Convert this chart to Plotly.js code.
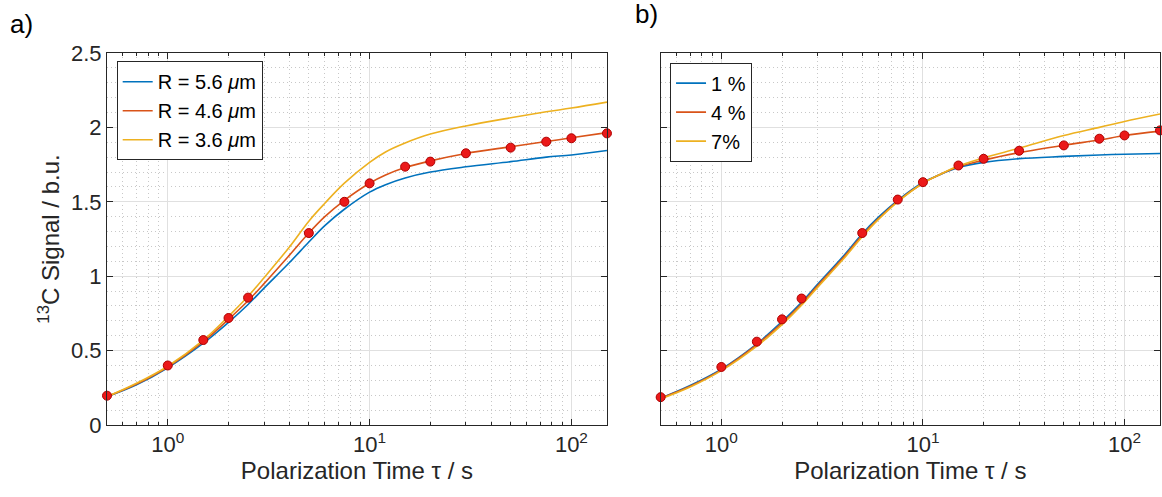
<!DOCTYPE html>
<html><head><meta charset="utf-8">
<script src="https://cdn.plot.ly/plotly-3.0.1.min.js"></script>
<style>html,body{margin:0;padding:0;background:#fff}#chart{width:1162px;height:497px}</style>
</head><body><div id="chart"></div><script>
// Simulation time grid (s)
const tauFit = [0.5,0.7,1,1.5,2,2.5,3,4,5,6,7.5,10,12,15,20,30,50,75,100,150];
// Panel a: radius series
const aR56 = [0.19,0.27,0.385,0.55,0.69,0.81,0.92,1.09,1.23,1.34,1.45,1.565,1.615,1.66,1.70,1.735,1.77,1.80,1.815,1.845];
const aR46 = [0.19,0.275,0.39,0.56,0.71,0.835,0.95,1.14,1.29,1.40,1.51,1.625,1.68,1.73,1.775,1.825,1.87,1.905,1.93,1.965];
const aR36 = [0.19,0.28,0.395,0.57,0.73,0.865,0.99,1.195,1.37,1.49,1.625,1.765,1.835,1.895,1.955,2.01,2.065,2.105,2.13,2.17];
// Panel b: concentration series
const b1 = [0.18,0.265,0.375,0.545,0.695,0.825,0.945,1.13,1.285,1.395,1.51,1.63,1.68,1.73,1.765,1.79,1.805,1.815,1.82,1.825];
const b4 = [0.18,0.26,0.37,0.54,0.685,0.815,0.935,1.12,1.275,1.385,1.505,1.625,1.68,1.735,1.78,1.83,1.88,1.915,1.945,1.975];
const b7 = [0.175,0.255,0.365,0.53,0.675,0.805,0.925,1.11,1.265,1.38,1.50,1.625,1.68,1.74,1.795,1.86,1.945,2.00,2.04,2.09];
// Measured points
const tauExp = [0.5,1,1.5,2,2.5,5,7.5,10,15,20,30,50,75,100,150];
const expA = [0.197,0.40,0.571,0.719,0.856,1.29,1.50,1.624,1.736,1.77,1.826,1.864,1.904,1.927,1.96];
const expB = [0.187,0.39,0.56,0.71,0.85,1.29,1.515,1.632,1.744,1.789,1.843,1.879,1.924,1.946,1.98];
// Labels
const namesA = ['R = 5.6 <i>μ</i>m','R = 4.6 <i>μ</i>m','R = 3.6 <i>μ</i>m'];
const namesB = ['1 %','4 %','7%'];
const xTickVals = [1,10,100];
const xTickText = ['10<sup>0</sup>','10<sup>1</sup>','10<sup>2</sup>'];
const xMinorVals = [0.5,0.6,0.7,0.8,0.9,2,3,4,5,6,7,8,9,20,30,40,50,60,70,80,90];

const colors = ['#0072BD','#D95319','#EDB120'];
const FONT = 'Liberation Sans, Arial, Helvetica, sans-serif';
const traces = [];
[aR56,aR46,aR36].forEach((y,i)=>traces.push({x:tauFit,y:y,type:'scatter',mode:'lines',name:namesA[i],
  line:{color:colors[i],width:1.6,shape:'spline',smoothing:1},xaxis:'x',yaxis:'y',legend:'legend'}));
traces.push({x:tauExp,y:expA,type:'scatter',mode:'markers',showlegend:false,cliponaxis:false,
  marker:{size:9,color:'rgb(235,25,25)',line:{color:'rgb(175,0,0)',width:1}},xaxis:'x',yaxis:'y'});
[b1,b4,b7].forEach((y,i)=>traces.push({x:tauFit,y:y,type:'scatter',mode:'lines',name:namesB[i],
  line:{color:colors[i],width:1.6,shape:'spline',smoothing:1},xaxis:'x2',yaxis:'y2',legend:'legend2'}));
traces.push({x:tauExp,y:expB,type:'scatter',mode:'markers',showlegend:false,cliponaxis:false,
  marker:{size:9,color:'rgb(235,25,25)',line:{color:'rgb(175,0,0)',width:1}},xaxis:'x2',yaxis:'y2'});

const MINORGRID = {gridcolor:'#c8c8c8',griddash:'1px,3px',gridwidth:1};
function xax(domain, anchor){
  return {type:'log',range:[Math.log10(0.5),Math.log10(150)],domain:domain,anchor:anchor,
    tickmode:'array',tickvals:xTickVals,ticktext:xTickText,
    ticks:'inside',ticklen:6,tickwidth:1,tickcolor:'#262626',
    showline:true,linecolor:'#262626',linewidth:1,mirror:'ticks',
    showgrid:true,gridcolor:'#e0e0e0',gridwidth:1,zeroline:false,
    minor:Object.assign({tickmode:'array',tickvals:xMinorVals,ticks:'inside',ticklen:3,tickcolor:'#262626',
      showgrid:true},MINORGRID),
    tickfont:{family:FONT,size:22,color:'#262626'},
    title:{text:'Polarization Time τ / s',font:{family:FONT,size:24,color:'#262626'},standoff:5}};
}
function yax(anchor, labels){
  const o = {range:[0,2.5],anchor:anchor,dtick:0.5,tick0:0,
    ticks:'inside',ticklen:6,tickwidth:1,tickcolor:'#262626',
    showline:true,linecolor:'#262626',linewidth:1,mirror:'ticks',
    showgrid:true,gridcolor:'#e0e0e0',gridwidth:1,zeroline:false,
    minor:Object.assign({dtick:0.1,ticks:'',showgrid:true},MINORGRID),
    showticklabels:labels,
    tickfont:{family:FONT,size:22,color:'#262626'}};
  if(labels){o.title={text:'<sup>13</sup>C Signal / b.u.',font:{family:FONT,size:24,color:'#262626'},standoff:4};}
  return o;
}
const layout = {
  width:1162,height:497,
  margin:{l:107,r:2,t:53,b:72},
  paper_bgcolor:'#fff',plot_bgcolor:'#fff',
  font:{family:FONT,color:'#262626'},
  xaxis:xax([0,0.4748],'y'),
  yaxis:yax('x',true),
  xaxis2:xax([0.5258,1],'y2'),
  yaxis2:yax('x2',false),
  legend:{x:0.0092,y:0.978,xanchor:'left',yanchor:'top',bgcolor:'#fff',bordercolor:'#262626',borderwidth:1,
    font:{family:FONT,size:20,color:'#000'},tracegroupgap:0},
  legend2:{x:0.5347,y:0.974,xanchor:'left',yanchor:'top',bgcolor:'#fff',bordercolor:'#262626',borderwidth:1,
    font:{family:FONT,size:20,color:'#000'},tracegroupgap:0},
  annotations:[
    {text:'a)',xref:'paper',yref:'paper',x:-0.094,y:1.125,xanchor:'left',yanchor:'top',showarrow:false,
      font:{family:FONT,size:26,color:'#000'}},
    {text:'b)',xref:'paper',yref:'paper',x:0.4998,y:1.15,xanchor:'left',yanchor:'top',showarrow:false,
      font:{family:FONT,size:26,color:'#000'}}
  ],
  showlegend:true
};
Plotly.newPlot('chart',traces,layout,{staticPlot:true,displayModeBar:false});
</script></body></html>
